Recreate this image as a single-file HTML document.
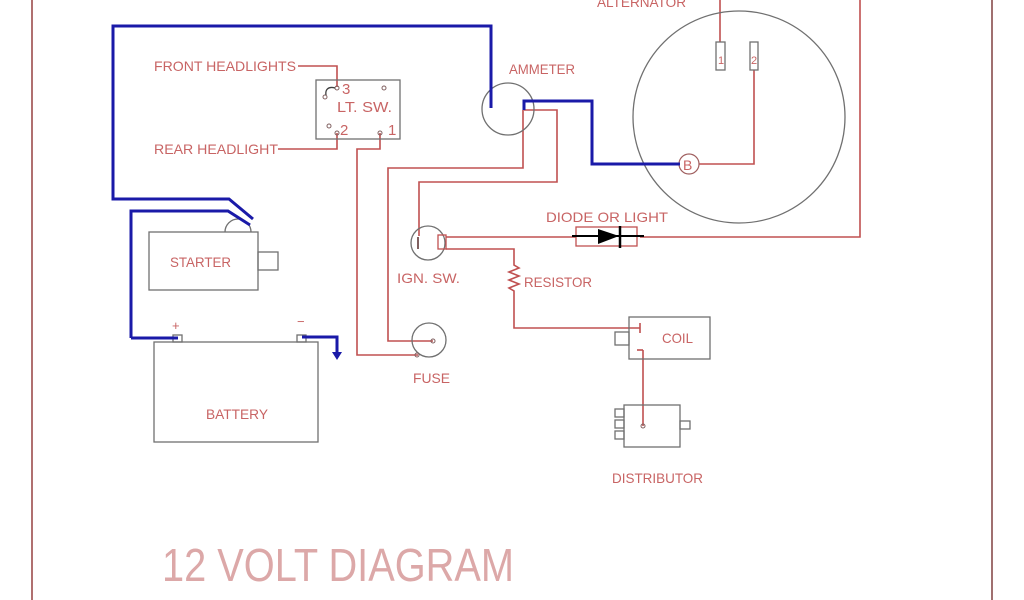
<!DOCTYPE html>
<html><head><meta charset="utf-8"><style>
html,body{margin:0;padding:0;background:#fff;}
svg{display:block;}
text{font-family:"Liberation Sans Narrow","Liberation Sans",sans-serif;fill:#c86464;}
</style></head><body>
<svg width="1024" height="600" viewBox="0 0 1024 600" xmlns="http://www.w3.org/2000/svg">
<line x1="32" y1="0" x2="32" y2="600" stroke="#b07070" stroke-width="2"/>
<line x1="992" y1="0" x2="992" y2="600" stroke="#a07070" stroke-width="2"/>

<g fill="none" stroke="#c05050" stroke-width="1.6">
 <polyline points="298,66 337,66 337,87"/>
 <polyline points="278,149 337,149 337,133"/>
 <polyline points="380,133 380,149 357,149 357,355 418,355"/>
 <polyline points="433,341 388,341 388,168 523,168 523,110"/>
 <polyline points="524,110 557,110 557,182 419,182 419,236"/>
 <line x1="720" y1="0" x2="720" y2="42"/>
 <polyline points="754,70 754,164 699,164"/>
 <polyline points="860,0 860,237 640,237"/>
 <line x1="446" y1="237" x2="576" y2="237"/>
 <polyline points="446,249 514,249 514,265 519,268 509,272 519,276 509,280 519,284 509,288 514,291 514,328 640,328"/>
 <polyline points="643,350 643,426"/>
 <line x1="637" y1="350" x2="643" y2="350"/>
 <line x1="640" y1="323" x2="640" y2="333"/>
</g>

<g fill="none" stroke="#707070" stroke-width="1.3">
 <rect x="149" y="232" width="109" height="58"/>
 <rect x="258" y="252" width="20" height="18"/>
 <path d="M225,232 A13,13 0 0 1 251,232"/>
 <rect x="154" y="342" width="164" height="100"/>
 <rect x="173" y="335" width="9" height="7"/>
 <rect x="297" y="335" width="9" height="7"/>
 <rect x="316" y="80" width="84" height="59"/>
 <circle cx="508" cy="109" r="26"/>
 <circle cx="739" cy="117" r="106"/>
 <rect x="716" y="42" width="9" height="28"/>
 <rect x="750" y="42" width="8" height="28"/>
 <circle cx="428" cy="243" r="17"/>
 <circle cx="429" cy="340" r="17"/>
 <rect x="629" y="317" width="81" height="42"/>
 <rect x="615" y="332" width="14" height="13"/>
 <rect x="624" y="405" width="56" height="42"/>
 <rect x="615" y="409" width="9" height="8"/>
 <rect x="615" y="420" width="9" height="8"/>
 <rect x="615" y="431" width="9" height="8"/>
 <rect x="680" y="421" width="10" height="8"/>
</g>

<g fill="none" stroke="#806060" stroke-width="1">
 <circle cx="337" cy="88" r="2"/><circle cx="384" cy="88" r="2"/>
 <circle cx="325" cy="97" r="2"/><circle cx="329" cy="126" r="2"/>
 <circle cx="337" cy="133" r="2"/><circle cx="380" cy="133" r="2"/>
 <circle cx="433" cy="341" r="2"/><circle cx="417" cy="355" r="2"/>
 <circle cx="643" cy="426" r="2"/>
</g>
<path d="M335,88 C328,86 325,90 326,95" fill="none" stroke="#404040" stroke-width="1.3"/>
<line x1="418" y1="237" x2="418" y2="249" stroke="#806060" stroke-width="2"/>
<rect x="438" y="235" width="8" height="14" fill="none" stroke="#c05050" stroke-width="1.3"/>
<circle cx="689" cy="164" r="10" fill="none" stroke="#a06060" stroke-width="1.2"/>
<text x="683" y="170" font-size="14">B</text>
<text x="718" y="64" font-size="11">1</text>
<text x="751" y="64" font-size="11">2</text>

<rect x="576" y="227" width="61" height="19" fill="none" stroke="#c05050" stroke-width="1.3"/>
<line x1="572" y1="236" x2="644" y2="236" stroke="#000" stroke-width="2"/>
<polygon points="598,229 598,244 619,236" fill="#000"/>
<line x1="620" y1="226" x2="620" y2="248" stroke="#000" stroke-width="2.5"/>

<g fill="none" stroke="#1a1aa8" stroke-width="3">
 <polyline points="491,108 491,26 113,26 113,199 229,199 253,219"/>
 <polyline points="131,338 131,211 228,211 250,225"/>
 <polyline points="131,338 178,338"/>
 <polyline points="302,337 337,337 337,354"/>
 <polyline points="524,110 524,101 592,101 592,164 680,164"/>
</g>
<polygon points="332,352 342,352 337,360" fill="#1a1aa8"/>

<g font-size="14">
 <text x="154" y="71" textLength="142" lengthAdjust="spacingAndGlyphs">FRONT  HEADLIGHTS</text>
 <text x="154" y="154" textLength="124" lengthAdjust="spacingAndGlyphs">REAR  HEADLIGHT</text>
 <text x="342" y="94" font-size="15">3</text>
 <text x="337" y="112" font-size="15" textLength="55" lengthAdjust="spacingAndGlyphs">LT.  SW.</text>
 <text x="340" y="135" font-size="15">2</text>
 <text x="388" y="135" font-size="15">1</text>
 <text x="509" y="74" textLength="66" lengthAdjust="spacingAndGlyphs">AMMETER</text>
 <text x="597" y="7" textLength="89" lengthAdjust="spacingAndGlyphs">ALTERNATOR</text>
 <text x="546" y="222" textLength="122" lengthAdjust="spacingAndGlyphs">DIODE  OR  LIGHT</text>
 <text x="397" y="283" textLength="63" lengthAdjust="spacingAndGlyphs">IGN.  SW.</text>
 <text x="524" y="287" textLength="68" lengthAdjust="spacingAndGlyphs">RESISTOR</text>
 <text x="170" y="267" textLength="61" lengthAdjust="spacingAndGlyphs">STARTER</text>
 <text x="206" y="419" textLength="62" lengthAdjust="spacingAndGlyphs">BATTERY</text>
 <text x="413" y="383" textLength="37" lengthAdjust="spacingAndGlyphs">FUSE</text>
 <text x="662" y="343" textLength="31" lengthAdjust="spacingAndGlyphs">COIL</text>
 <text x="612" y="483" textLength="91" lengthAdjust="spacingAndGlyphs">DISTRIBUTOR</text>
 <text x="172" y="330" font-size="13">+</text>
 <text x="297" y="326" font-size="13">−</text>
</g>
<text x="162" y="581" font-size="46" textLength="352" lengthAdjust="spacingAndGlyphs" style="fill:#dca8a8;">12  VOLT  DIAGRAM</text>
</svg>
</body></html>
